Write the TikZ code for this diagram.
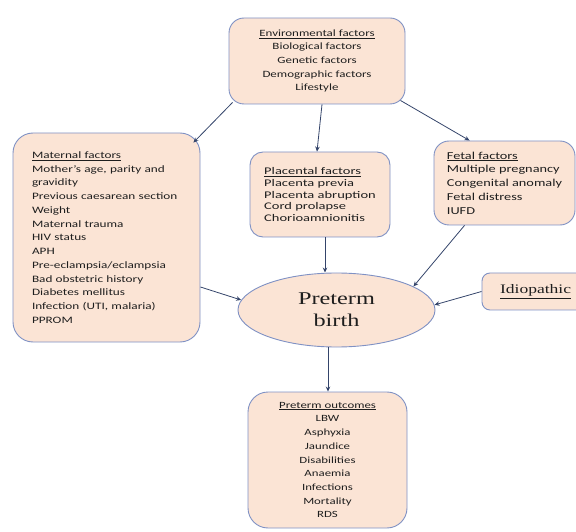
\documentclass[tikz,border=0pt]{standalone}
\usepackage{fontspec}
\setmainfont{Carlito}[FakeStretch=1.35]
\newfontfamily\tnr{Liberation Serif}[FakeStretch=1.35]
\newfontfamily\plfont{Carlito}[FakeStretch=1.42]
\usetikzlibrary{shapes.geometric,arrows.meta}
\definecolor{pch}{HTML}{FBE4D5}
\definecolor{bdr}{HTML}{7F91C4}
\definecolor{arr}{HTML}{34446A}
\definecolor{txt}{HTML}{1E1E1E}
\tikzset{
  fbox/.style={draw=bdr, fill=pch, line width=0.9pt, inner ysep=0pt, text=txt},
  lbox/.style={fbox, align=left},
  cbox/.style={fbox, align=center, inner xsep=0pt},
  conn/.style={draw=arr, line width=0.8pt, -{Stealth[length=5pt,width=4.5pt]}},
}
\begin{document}
\begin{tikzpicture}[x=1pt,y=1pt]
\useasboundingbox (0,0) rectangle (576,531);
\clip (0,0) rectangle (576,531);
% Environmental
\node[cbox, rounded corners=15pt, minimum width=176pt, minimum height=86pt,
  font=\fontsize{9.6}{13.6}\selectfont] (env) at (317,470)
  {\underline{Environmental factors}\\Biological factors\\Genetic factors\\Demographic factors\\Lifestyle};
% Maternal
\node[lbox, rounded corners=20pt, minimum width=187pt, minimum height=209pt,
  inner xsep=19pt, text width=149pt,
  font=\fontsize{9.8}{13.75}\selectfont] (mat) at (106.5,293.5)
  {\underline{Maternal factors}\\Mother's age, parity and\\gravidity\\Previous caesarean section\\Weight\\Maternal trauma\\HIV status\\APH\\Pre-eclampsia/eclampsia\\Bad obstetric history\\Diabetes mellitus\\Infection (UTI, malaria)\\PPROM};
% Placental
\node[lbox, rounded corners=13pt, minimum width=140pt, minimum height=85pt,
  inner xsep=0pt,
  font=\plfont\fontsize{10.2}{11.6}\selectfont] (pla) at (320,336.5)
  {\underline{Placental factors}\\Placenta previa\\Placenta abruption\\Cord prolapse\\Chorioamnionitis};
% Fetal
\node[lbox, rounded corners=15pt, minimum width=141pt, minimum height=84pt,
  inner xsep=0pt,
  font=\fontsize{10.6}{13.8}\selectfont] (fet) at (504.5,348)
  {\underline{Fetal factors}\\Multiple pregnancy\\Congenital anomaly\\Fetal distress\\IUFD};
% Idiopathic
\node[lbox, rounded corners=8pt, minimum width=110pt, minimum height=37pt,
  inner xsep=18pt, text width=74pt,
  font=\tnr\fontsize{13}{15}\selectfont] (idio) at (537,239.5)
  {\underline{Idiopathic}};
% Preterm birth
\node[fbox, ellipse, inner sep=0pt, minimum width=197pt, minimum height=74pt,
  align=center, font=\tnr\fontsize{18}{22}\selectfont] (ell) at (336.5,221)
  {Preterm\\birth};
% Outcomes
\node[cbox, rounded corners=20pt, minimum width=159pt, minimum height=136pt,
  font=\fontsize{9.5}{13.7}\selectfont] (out) at (327.5,71)
  {\underline{Preterm outcomes}\\LBW\\Asphyxia\\Jaundice\\Disabilities\\Anaemia\\Infections\\Mortality\\RDS};
% Connectors
\draw[conn] ([xshift=4pt,yshift=2pt]env.south west) -- ([xshift=-7pt,yshift=-10pt]mat.north east);
\draw[conn] ([xshift=5pt]env.south) -- ([xshift=-3pt]pla.north);
\draw[conn] ([xshift=-5pt,yshift=4pt]env.south east) -- ([xshift=36pt]fet.north west);
\draw[conn] ([xshift=5pt]pla.south) -- ([xshift=5pt]pla.south |- ell.north);
\draw[conn] ([yshift=-49.5pt]mat.east) -- (ell.174);
\draw[conn] ([xshift=-40pt]fet.south) -- (ell.17);
\draw[conn] (idio.west) -- (ell.3);
\draw[conn] ([xshift=-8.5pt]ell.south) -- ([xshift=-8.5pt]ell.south |- out.north);
\end{tikzpicture}
\end{document}
